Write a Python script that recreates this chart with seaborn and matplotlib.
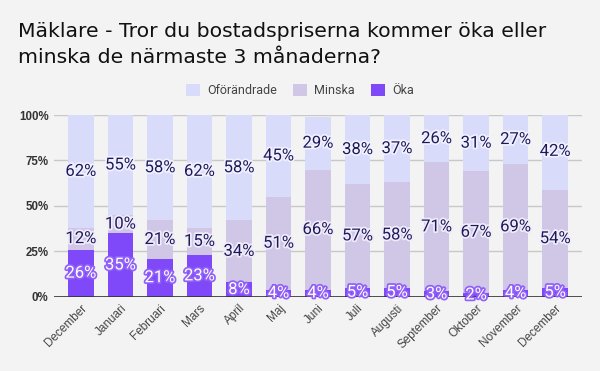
import matplotlib
matplotlib.use("Agg")
import matplotlib.pyplot as plt
import matplotlib.patheffects as pe
from matplotlib.patches import Patch
import seaborn as sns
import pandas as pd
import numpy as np

months = ["December", "Januari", "Februari", "Mars", "April", "Maj", "Juni",
          "Juli", "Augusti", "September", "Oktober", "November", "December"]
oka = [26, 35, 21, 23, 8, 4, 4, 5, 5, 3, 2, 4, 5]
minska = [12, 10, 21, 15, 34, 51, 66, 57, 58, 71, 67, 69, 54]
oforandrade = [62, 55, 58, 62, 58, 45, 29, 38, 37, 26, 31, 27, 42]

series = ["Oförändrade", "Minska", "Öka"]
colors = {"Oförändrade": "#d9dbfb", "Minska": "#d0c6e6", "Öka": "#7f48f8"}

sns.set_theme(style="white")
plt.rcParams["font.family"] = ["DejaVu Sans"]

df = pd.DataFrame({"pos": list(range(len(months))), "oka": oka,
                   "minska": minska, "ofor": oforandrade})
df["c1"] = df["oka"]
df["c2"] = df["oka"] + df["minska"]
df["c3"] = df["c2"] + df["ofor"]

fig = plt.figure(figsize=(6, 3.71), dpi=100, facecolor="#f3f3f3")
ax = fig.add_axes([0.09, 0.2, 0.88, 0.49])
ax.set_facecolor("#f3f3f3")

W = 0.65
for col, name in [("c3", "Oförändrade"), ("c2", "Minska"), ("c1", "Öka")]:
    sns.barplot(data=df, x="pos", y=col, color=colors[name], width=W,
                saturation=1, ax=ax, zorder=3, linewidth=0)

ax.set_xlim(-0.68, 12.68)
ax.set_ylim(0, 100)
ax.set_yticks([0, 25, 50, 75, 100])
ax.set_yticklabels(["0%", "25%", "50%", "75%", "100%"],
                   fontfamily="Liberation Sans", fontweight="bold",
                   fontsize=8.3, color="#333333")
ax.set_xticks(range(len(months)))
ax.set_xticklabels(months, rotation=45, ha="right", rotation_mode="anchor",
                   fontfamily="Liberation Sans", fontsize=8.5, color="#444444")
ax.tick_params(axis="both", length=0, pad=4)
ax.grid(axis="y", color="#c8c8c8", linewidth=1, zorder=0)
ax.axhline(0, color="#333333", linewidth=1.2, zorder=4)
ax.set_xlabel("")
ax.set_ylabel("")
for s in ax.spines.values():
    s.set_visible(False)

dark = "#1e1a5a"
FS = 12
for i in range(len(months)):
    ax.text(i, oka[i] / 2, f"{oka[i]}%", ha="center", va="center",
            fontfamily="Roboto", fontsize=FS, color="white", zorder=6,
            path_effects=[pe.withStroke(linewidth=2.5, foreground="#9060f8")])
    ax.text(i, oka[i] + minska[i] / 2, f"{minska[i]}%", ha="center", va="center",
            fontfamily="Roboto", fontsize=FS, color=dark, zorder=6,
            path_effects=[pe.withStroke(linewidth=2.5, foreground="#f0ecfa")])
    ax.text(i, oka[i] + minska[i] + oforandrade[i] / 2, f"{oforandrade[i]}%",
            ha="center", va="center", fontfamily="Roboto", fontsize=FS,
            color=dark, zorder=6,
            path_effects=[pe.withStroke(linewidth=2.5, foreground="#f2f2fe")])

handles = [Patch(facecolor=colors[n], edgecolor="none") for n in series]
leg = fig.legend(handles, series, loc="center", bbox_to_anchor=(0.5, 0.757),
                 ncol=3, frameon=False, handlelength=1.1, handleheight=1.1,
                 handletextpad=0.6, columnspacing=1.3,
                 prop={"family": "Roboto", "size": 9})
for t in leg.get_texts():
    t.set_color("#444444")

fig.text(0.03, 0.94, "Mäklare - Tror du bostadspriserna kommer öka eller\n"
         "minska de närmaste 3 månaderna?", ha="left", va="top",
         fontsize=14.7, color="#111111", linespacing=1.45)

fig.savefig("out.png", dpi=100, facecolor=fig.get_facecolor())
